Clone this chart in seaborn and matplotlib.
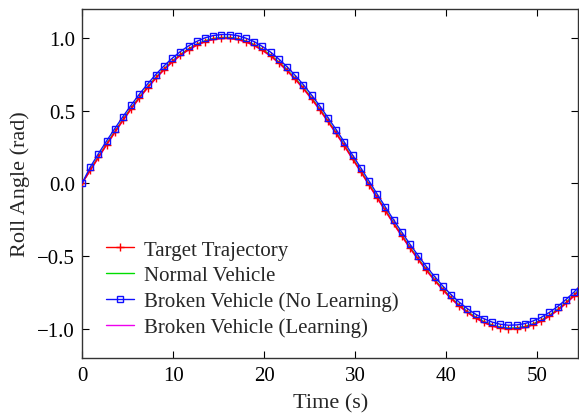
import numpy as np
import pandas as pd
import matplotlib
matplotlib.use("Agg")
import matplotlib.pyplot as plt
import seaborn as sns

# time samples (s)
time_s = [round(0.9 * k, 1) for k in range(62)]

target = [0, 0.090, 0.179, 0.267, 0.352, 0.435, 0.514, 0.589, 0.659, 0.724, 0.783, 0.836, 0.882, 0.921, 0.952,
          0.976, 0.992, 0.999, 0.999, 0.991, 0.974, 0.950, 0.917, 0.878, 0.831, 0.778, 0.718, 0.654, 0.583, 0.508,
          0.427, 0.345, 0.259, 0.170, 0.082, -0.008, -0.098, -0.187, -0.275, -0.360, -0.443, -0.521, -0.596, -0.665,
          -0.730, -0.789, -0.841, -0.886, -0.924, -0.955, -0.978, -0.993, -1.000, -0.998, -0.989, -0.971, -0.946,
          -0.912, -0.872, -0.825, -0.773, -0.713]

normal = [0, 0.094, 0.184, 0.272, 0.357, 0.440, 0.519, 0.594, 0.664, 0.729, 0.788, 0.841, 0.887, 0.926, 0.957,
          0.981, 0.997, 1.004, 1.004, 0.996, 0.979, 0.955, 0.922, 0.883, 0.836, 0.783, 0.723, 0.659, 0.588, 0.513,
          0.432, 0.350, 0.264, 0.175, 0.087, -0.003, -0.093, -0.182, -0.270, -0.355, -0.438, -0.516, -0.591, -0.660,
          -0.725, -0.784, -0.836, -0.881, -0.919, -0.950, -0.973, -0.988, -0.995, -0.993, -0.984, -0.966, -0.941,
          -0.907, -0.867, -0.820, -0.768, -0.708]

broken_no_learning = [0, 0.112, 0.204, 0.292, 0.377, 0.460, 0.539, 0.614, 0.684, 0.749, 0.808, 0.861, 0.907, 0.946,
                      0.977, 1.001, 1.017, 1.024, 1.024, 1.016, 0.999, 0.975, 0.942, 0.903, 0.856, 0.803, 0.743, 0.679,
                      0.608, 0.533, 0.452, 0.370, 0.284, 0.195, 0.107, 0.017, -0.073, -0.162, -0.250, -0.335, -0.418,
                      -0.496, -0.571, -0.640, -0.705, -0.764, -0.816, -0.861, -0.899, -0.930, -0.953, -0.968, -0.975,
                      -0.973, -0.964, -0.946, -0.921, -0.887, -0.847, -0.800, -0.748, -0.688]

broken_learning = [0, 0.087, 0.176, 0.264, 0.349, 0.432, 0.511, 0.586, 0.656, 0.721, 0.780, 0.833, 0.879, 0.918,
                   0.949, 0.973, 0.989, 0.996, 0.996, 0.988, 0.971, 0.947, 0.914, 0.875, 0.828, 0.775, 0.715, 0.651,
                   0.580, 0.505, 0.424, 0.342, 0.256, 0.167, 0.079, -0.011, -0.101, -0.190, -0.278, -0.363, -0.446,
                   -0.524, -0.599, -0.668, -0.733, -0.792, -0.844, -0.889, -0.927, -0.958, -0.981, -0.996, -1.003,
                   -1.001, -0.992, -0.974, -0.949, -0.915, -0.875, -0.828, -0.776, -0.716]

labels = ["Target Trajectory", "Normal Vehicle", "Broken Vehicle (No Learning)", "Broken Vehicle (Learning)"]
x_ticks = [0, 10, 20, 30, 40, 50]
y_ticks = [-1.0, -0.5, 0.0, 0.5, 1.0]

sns.set_style("ticks")
plt.rcParams['font.family'] = ['Liberation Serif', 'DejaVu Serif']
plt.rcParams['axes.unicode_minus'] = True

fig = plt.figure(figsize=(5.79, 4.14), dpi=100)
ax = fig.add_axes([0.1416, 0.133, 0.8575, 0.843])

df = pd.DataFrame({"t": time_s, "target": target, "normal": normal,
                   "nolearn": broken_no_learning, "learn": broken_learning})

sns.lineplot(data=df, x="t", y="normal", ax=ax, color="#00dd00", lw=1.0, label=labels[1], zorder=2)
sns.lineplot(data=df, x="t", y="learn", ax=ax, color="#ee00ee", lw=1.0, label=labels[3], zorder=2)
sns.lineplot(data=df, x="t", y="target", ax=ax, color="#ff0000", lw=1.0, marker="+", markersize=6,
             markeredgewidth=1.0, markeredgecolor="#ff0000", label=labels[0], zorder=3)
sns.lineplot(data=df, x="t", y="nolearn", ax=ax, color="#1010ff", lw=1.0, marker="s", markersize=4.8,
             markerfacecolor="none", markeredgewidth=1.0, markeredgecolor="#1010ff", label=labels[2], zorder=4)

ax.set_xlim(0, 54.5)
ax.set_ylim(-1.2, 1.2)
ax.set_xticks(x_ticks)
ax.set_yticks(y_ticks)
ax.set_yticklabels([f"{v:.1f}".replace("-", "\u2212") for v in y_ticks])
ax.tick_params(direction="in", length=5, width=0.8, top=True, right=True, labelsize=15, colors="black")
ax.tick_params(axis="x", pad=6)
ax.tick_params(axis="y", pad=5)
for s in ax.spines.values():
    s.set_color("#333333")
    s.set_linewidth(1.0)
ax.set_xlabel("Time (s)", fontsize=16, labelpad=6)
ax.set_ylabel("Roll Angle (rad)", fontsize=16, labelpad=5)

h, l = ax.get_legend_handles_labels()
order = [l.index(x) for x in labels]
ax.legend([h[i] for i in order], [l[i] for i in order], loc="lower left", frameon=False, fontsize=15,
          bbox_to_anchor=(0.01, 0.005), handlelength=1.35, handletextpad=0.5, labelspacing=0.3)

fig.savefig("out.png", dpi=100)
